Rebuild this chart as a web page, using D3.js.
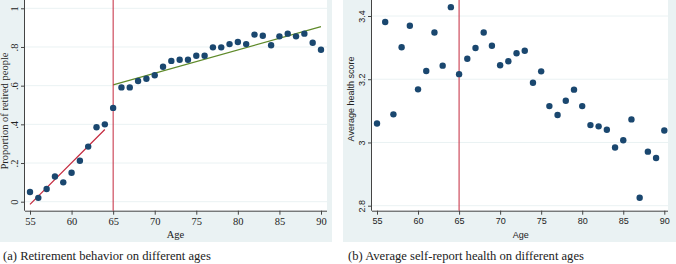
<!DOCTYPE html>
<html>
<head>
<meta charset="utf-8">
<script src="https://cdn.jsdelivr.net/npm/d3@7"></script>
<style>
  body { margin: 0; background: #fff; }
  svg { display: block; }
</style>
</head>
<body>
<svg id="chart" width="676" height="264"></svg>
<script>
// ages shared by both panels
var ages = d3.range(55, 91);

// panel (a): share retired by age
var retired = [0.05, 0.02, 0.066, 0.13, 0.10, 0.15, 0.212, 0.285, 0.385, 0.40,
  0.485, 0.591, 0.591, 0.624, 0.636, 0.654, 0.698, 0.728, 0.734, 0.734,
  0.755, 0.755, 0.798, 0.798, 0.815, 0.826, 0.815, 0.864, 0.858, 0.809,
  0.855, 0.869, 0.855, 0.869, 0.822, 0.786];

// panel (b): average self-reported health by age
var health = [3.060, 3.381, 3.089, 3.301, 3.369, 3.168, 3.226, 3.348, 3.243, 3.428,
  3.216, 3.265, 3.299, 3.348, 3.306, 3.244, 3.257, 3.282, 3.290, 3.189,
  3.225, 3.115, 3.087, 3.132, 3.167, 3.115, 3.055, 3.051, 3.040, 2.984,
  3.007, 3.073, 2.825, 2.971, 2.951, 3.038];

var xTicks = [55, 60, 65, 70, 75, 80, 85, 90];
var yTicksA = [0, 0.2, 0.4, 0.6, 0.8, 1];
var yTicksB = [2.8, 3, 3.2, 3.4];
var cutoff = 65;

var bg = "#eaf2f3", navy = "#1a476f", red = "#c4283d", green = "#5f8a2a";
var serif = "'Liberation Serif', 'DejaVu Serif', serif";
var sans = "'Liberation Sans', Arial, sans-serif";

var svg = d3.select("#chart");

// least squares line over a slice of the data
function fit(xs, ys) {
  var mx = d3.mean(xs), my = d3.mean(ys);
  var sxy = d3.sum(xs, function (x, i) { return (x - mx) * (ys[i] - my); });
  var sxx = d3.sum(xs, function (x) { return (x - mx) * (x - mx); });
  var b = sxy / sxx;
  return [[xs[0], my + b * (xs[0] - mx)], [xs[xs.length - 1], my + b * (xs[xs.length - 1] - mx)]];
}

function panel(o) {
  var g = svg.append("g");

  g.append("rect").attr("x", o.bx).attr("y", 0).attr("width", o.bw).attr("height", 242).attr("fill", bg);
  g.append("rect").attr("x", o.left).attr("y", 0).attr("width", o.right - o.left).attr("height", o.bottom).attr("fill", "#fff");

  var x = d3.scaleLinear().domain([55, 90]).range(o.xr);
  var y = d3.scaleLinear().domain(o.yd).range(o.yr);

  // horizontal grid
  g.selectAll(".grid").data(o.yTicks).enter().append("line")
    .attr("x1", o.left).attr("x2", o.right)
    .attr("y1", function (d) { return y(d); }).attr("y2", function (d) { return y(d); })
    .attr("stroke", bg).attr("stroke-width", 1);

  // axes
  var ax = g.append("g").attr("transform", "translate(0," + o.bottom + ")")
    .call(d3.axisBottom(x).tickValues(xTicks).tickSize(4).tickPadding(3).tickFormat(d3.format("d")));
  ax.select(".domain").attr("d", "M" + o.left + ",0.5H" + o.right).attr("stroke", "#444");
  ax.selectAll("text").attr("font-family", o.font).attr("font-size", o.fs).attr("fill", "#222");
  ax.selectAll(".tick line").attr("stroke", "#444");

  var ay = g.append("g").attr("transform", "translate(" + o.left + ",0)")
    .call(d3.axisLeft(y).tickValues(o.yTicks).tickSize(4).tickFormat(o.yFmt));
  ay.select(".domain").attr("d", "M-0.5,0V" + o.bottom).attr("stroke", "#444");
  ay.selectAll(".tick line").attr("stroke", "#444");
  ay.selectAll("text")
    .attr("x", null).attr("dy", null)
    .attr("transform", "translate(-7,0) rotate(-90)")
    .attr("text-anchor", "middle")
    .attr("font-family", o.font).attr("font-size", o.fs).attr("fill", "#222");

  // titles
  g.append("text").attr("x", (o.xr[0] + o.xr[1]) / 2).attr("y", 238)
    .attr("text-anchor", "middle").attr("font-family", o.font).attr("font-size", o.fs)
    .attr("fill", "#222").text("Age");
  g.append("text").attr("transform", "translate(" + o.ytx + "," + o.yty + ") rotate(-90)")
    .attr("text-anchor", "middle").attr("font-family", o.font).attr("font-size", o.fs)
    .attr("fill", "#222").text(o.ytitle);

  // fitted lines
  (o.fits || []).forEach(function (f) {
    g.append("line")
      .attr("x1", x(f.seg[0][0])).attr("y1", y(f.seg[0][1]))
      .attr("x2", x(f.seg[1][0])).attr("y2", y(f.seg[1][1]))
      .attr("stroke", f.color).attr("stroke-width", 1.2);
  });

  // cutoff
  g.append("line").attr("x1", x(cutoff)).attr("x2", x(cutoff)).attr("y1", 0).attr("y2", o.bottom)
    .attr("stroke", red).attr("stroke-width", 1);

  g.selectAll(".dot").data(o.values).enter().append("circle")
    .attr("cx", function (d, i) { return x(ages[i]); })
    .attr("cy", function (d) { return y(d); })
    .attr("r", 3.2).attr("fill", navy);

  svg.append("text").attr("x", o.capx).attr("y", 260)
    .attr("font-family", serif).attr("font-size", 12.6).attr("fill", "#222").text(o.caption);
}

var pre = ages.filter(function (a) { return a < cutoff; });
var post = ages.filter(function (a) { return a >= cutoff; });

panel({
  bx: 0, bw: 332, left: 25, right: 327, bottom: 210.7,
  xr: [30, 321], yd: [0, 1], yr: [201.7, 8.3],
  yTicks: yTicksA, yFmt: function (d) { return d === 0 ? "0" : d === 1 ? "1" : d3.format(".1f")(d).replace(/^0/, ""); },
  font: serif, fs: 10.5, ytx: 8, yty: 111, ytitle: "Proportion of retired people",
  values: retired,
  fits: [
    { seg: fit(pre, retired.slice(0, pre.length)), color: red },
    { seg: fit(post, retired.slice(pre.length)), color: green }
  ],
  capx: 3, caption: "(a) Retirement behavior on different ages"
});

panel({
  bx: 343, bw: 333, left: 372, right: 668, bottom: 210.7,
  xr: [377, 664.3], yd: [2.8, 3.4], yr: [205.7, 16],
  yTicks: yTicksB, yFmt: d3.format("~g"),
  font: sans, fs: 9, ytx: 354, yty: 99, ytitle: "Average health score",
  values: health,
  capx: 348, caption: "(b) Average self-report health on different ages"
});
</script>
</body>
</html>
